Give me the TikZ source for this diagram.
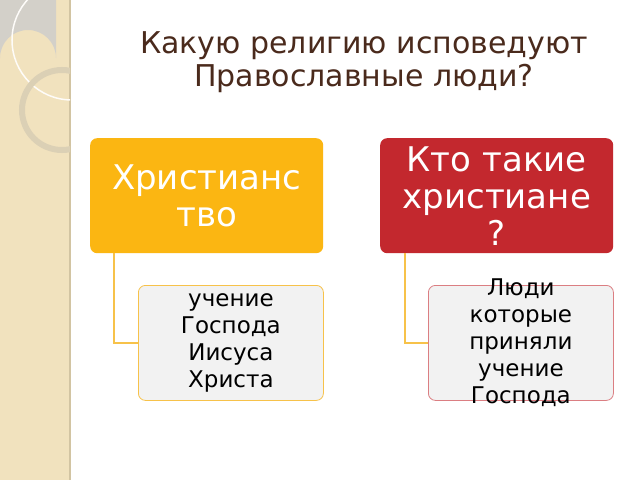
\documentclass[tikz,border=0pt]{standalone}
\usepackage{fontspec}
\setmainfont{DejaVu Sans}
\definecolor{strip}{HTML}{F1E2BE}
\definecolor{stripline}{HTML}{D2C4A2}
\definecolor{ttl}{HTML}{4A2A1C}
\definecolor{org}{HTML}{FBB612}
\definecolor{rd}{HTML}{C3282E}
\definecolor{lite}{HTML}{F2F2F2}
\definecolor{conn}{HTML}{F7C24A}
\tikzset{
 parent/.style={rounded corners=7pt,minimum width=233pt,minimum height=115pt,anchor=north west},
 ptext/.style={text=white,font=\fontsize{34}{37}\selectfont,align=center},
 child/.style={rounded corners=7pt,minimum width=185pt,minimum height=115pt,fill=lite,anchor=north west,line width=0.8pt},
 ctext/.style={font=\fontsize{23}{27}\selectfont,align=center},
 conn/.style={draw=conn,line width=1.2pt}
}
\begin{document}
\begin{tikzpicture}[x=1pt,y=-1pt]
\useasboundingbox (0,0) rectangle (640,480);
\fill[white] (0,0) rectangle (640,480);
\fill[strip] (0,0) rectangle (70,480);
\draw[stripline,line width=1.5pt] (70,0) -- (70,480);
\begin{scope}
\clip (0,0) rectangle (70,480);
\fill[gray!40,opacity=0.8] (0,58) arc[start angle=180,end angle=360,radius=28] -- (56,0) -- (0,0) -- cycle;
\draw[white!90!strip,line width=1.5pt] (72,40) circle[radius=60];
\draw[stripline!80!white,line width=6pt] (62,110) circle[radius=40];
\end{scope}
\node[text=ttl,font=\fontsize{30}{33}\selectfont,align=center] (title) at (364,62) {Какую религию исповедуют\\Православные люди?};
\node[parent,fill=org] (p1) at (90,138) {};
\node[ptext] (t1) at (p1.center) {Христианс\\тво};
\node[parent,fill=rd] (p2) at (380,138) {};
\node[ptext] (t2) at (p2.center) {Кто такие\\христиане\\?};
\node[child,draw=conn] (c1) at (138,285) {};
\node[ctext] (u1) at (c1.center) {учение\\Господа\\Иисуса\\Христа};
\node[child,draw=rd!60] (c2) at (428,285) {};
\node[ctext] (u2) at (c2.center) {Люди\\которые\\приняли\\учение\\Господа};
\draw[conn] ([xshift=24pt]p1.south west) |- (c1.west);
\draw[conn] ([xshift=25pt]p2.south west) |- (c2.west);
\end{tikzpicture}
\end{document}
